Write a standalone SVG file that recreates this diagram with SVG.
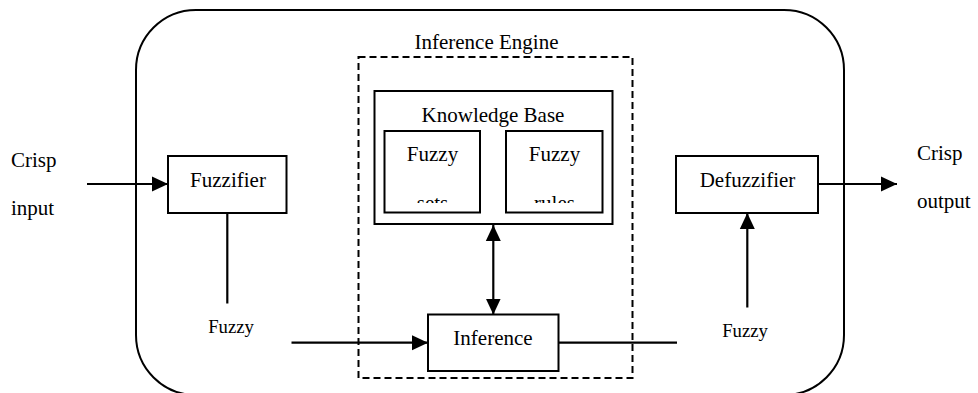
<svg xmlns="http://www.w3.org/2000/svg" width="978" height="393" viewBox="0 0 978 393">
<style>
text{font-family:"Liberation Serif","Times New Roman",serif;fill:#000}
.t{font-size:21px}
.s{font-size:18.7px}
.box{fill:#fff;stroke:#000;stroke-width:2}
.ln{fill:none;stroke:#000;stroke-width:2.2}
</style>
<defs>
<marker id="ah" markerUnits="userSpaceOnUse" markerWidth="16" markerHeight="16" viewBox="0 0 16 16" refX="16" refY="8" orient="auto-start-reverse">
<path d="M0,0.5 L16,8 L0,15.5 z" fill="#000"/>
</marker>
<clipPath id="clipSets"><rect x="385" y="132" width="94" height="71"/></clipPath>
<clipPath id="clipRules"><rect x="507" y="132" width="94" height="71"/></clipPath>
</defs>
<g id="system">
<rect x="136" y="10" width="708" height="385" rx="60" ry="60" fill="none" stroke="#000" stroke-width="2"/>
</g>
<g id="inference-engine">
<rect x="358.5" y="57" width="274" height="321" fill="none" stroke="#000" stroke-width="2" stroke-dasharray="7,4"/>
<text class="t" x="486.5" y="49" text-anchor="middle">Inference Engine</text>
</g>
<g id="knowledge-base">
<rect class="box" x="374.5" y="91" width="238" height="133"/>
<text class="t" x="493" y="122" text-anchor="middle">Knowledge Base</text>
</g>
<g id="fuzzy-sets">
<rect class="box" x="384.5" y="131" width="95.5" height="81.5"/>
<g clip-path="url(#clipSets)">
<text class="t" x="432.5" y="161" text-anchor="middle">Fuzzy</text>
<text class="t" x="432.5" y="210" text-anchor="middle">sets</text>
</g>
</g>
<g id="fuzzy-rules">
<rect class="box" x="506" y="131" width="96.5" height="81.5"/>
<g clip-path="url(#clipRules)">
<text class="t" x="554.5" y="161" text-anchor="middle">Fuzzy</text>
<text class="t" x="554.5" y="210" text-anchor="middle">rules</text>
</g>
</g>
<g id="fuzzifier">
<rect class="box" x="168" y="156" width="118.5" height="57"/>
<text class="t" x="228" y="187" text-anchor="middle">Fuzzifier</text>
</g>
<g id="defuzzifier">
<rect class="box" x="676" y="156" width="142" height="57"/>
<text class="t" x="747.5" y="187" text-anchor="middle">Defuzzifier</text>
</g>
<g id="inference">
<rect class="box" x="428" y="314.5" width="130.5" height="56.5"/>
<text class="t" x="493" y="345" text-anchor="middle">Inference</text>
</g>
<g id="crisp-input">
<text class="t" x="11" y="167">Crisp</text>
<text class="t" x="11" y="215">input</text>
</g>
<g id="crisp-output">
<text class="t" x="917" y="160">Crisp</text>
<text class="t" x="917" y="208">output</text>
</g>
<g id="labels">
<text class="s" x="231" y="333" text-anchor="middle">Fuzzy</text>
<text class="s" x="745" y="336.5" text-anchor="middle">Fuzzy</text>
</g>
<g id="connectors">
<line class="ln" x1="87" y1="184" x2="168" y2="184" marker-end="url(#ah)"/>
<line class="ln" x1="227.3" y1="213" x2="227.3" y2="303.5"/>
<line class="ln" x1="291.5" y1="342.7" x2="428" y2="342.7" marker-end="url(#ah)"/>
<line class="ln" x1="493.3" y1="225" x2="493.3" y2="314.5" marker-start="url(#ah)" marker-end="url(#ah)"/>
<line class="ln" x1="558.5" y1="342.7" x2="677" y2="342.7"/>
<line class="ln" x1="747.3" y1="307.5" x2="747.3" y2="213" marker-end="url(#ah)"/>
<line class="ln" x1="818" y1="184" x2="897" y2="184" marker-end="url(#ah)"/>
</g>
</svg>
